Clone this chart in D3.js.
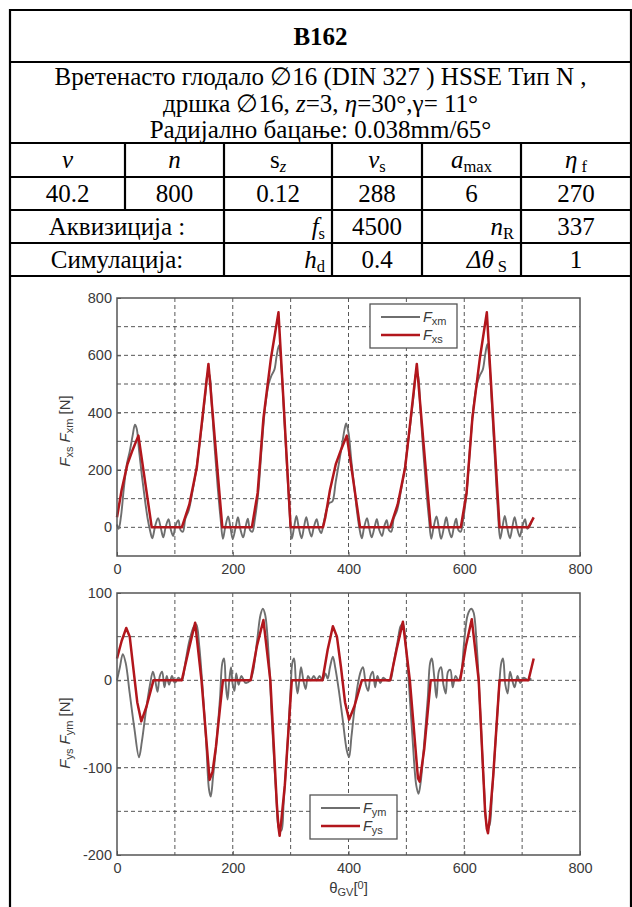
<!DOCTYPE html>
<html>
<head>
<meta charset="utf-8">
<script src="https://cdn.jsdelivr.net/npm/d3@7"></script>
<style>
body { margin: 0; background: #fff; }
</style>
</head>
<body>
<svg id="chart" width="632" height="907"></svg>
<script>
// ---------- table content ----------
var title = "B162";
var descLines = [
    [["Вретенасто глодало ∅16 (DIN 327 ) HSSE Тип N ,", ""]],
    [["дршка ∅16, ", ""], ["z", "i"], ["=3,  ", ""], ["η", "i"], ["=30°,γ= 11°", ""]],
    [["Радијално бацање: 0.038mm/65°", ""]]
];
var headCells = [
    [["v", "i"]], [["n", "i"]], [["s", ""], ["z", "sub i"]],
    [["v", "i"], ["s", "sub"]], [["a", "i"], ["max", "sub"]], [["η", "i"], [" f", "sub"]]
];
var valueCells = ["40.2", "800", "0.12", "288", "6", "270"];
var acqLabel = "Аквизиција :";
var acqCells = [[["f", "i"], ["s", "sub"]], "4500", [["n", "i"], ["R", "sub"]], "337"];
var simLabel = "Симулација:";
var simCells = [[["h", "i"], ["d", "sub"]], "0.4", [["Δθ", "i"], [" S", "sub"]], "1"];

// ---------- series: top plot (Fx) ----------
var fxmAngle = [0,3,7,12,17,22,27,31,34,38,43,48,53,57,61,66,71,76,80,84,89,93,97,101,106,110,114,
    118,124,130,136,142,148,153,157,160,164,169,174,179,183,
    187,192,196,200,205,209,213,218,222,226,230,234,
    238,244,250,256,262,267,272,276,280,284,289,294,298,
    302,306,310,314,319,323,327,331,336,340,345,349,353,
    357,362,367,372,378,384,389,393,396,400,405,410,415,419,
    423,427,432,436,440,445,449,453,458,462,466,470,474,
    478,484,490,496,502,508,513,517,520,524,529,534,539,543,
    547,552,556,560,565,569,573,578,582,586,590,594,
    598,604,610,616,622,627,632,636,640,644,649,654,658,
    662,666,670,674,679,683,687,691,696,700,705,709,713,716];
var fxmValue = [10,-5,40,140,220,265,320,358,345,270,180,100,30,-10,-38,5,32,-5,-35,0,28,-8,-30,5,25,-10,-15,
    30,60,120,190,280,380,470,540,530,420,270,140,30,-40,
    0,38,0,-40,0,35,-5,-35,0,30,-10,-15,
    25,120,280,420,500,530,550,600,635,560,380,200,60,
    -40,0,40,0,-38,0,35,0,-32,0,28,-5,-20,
    15,60,85,90,160,230,290,340,362,330,230,140,50,-5,
    -38,0,32,-5,-35,0,28,-8,-30,5,25,-10,-15,
    30,60,120,190,280,380,470,540,530,420,270,140,30,-40,
    0,38,0,-40,0,35,-5,-35,0,30,-10,-15,
    25,120,280,420,500,530,550,600,640,560,380,200,60,
    -40,0,40,0,-38,0,35,0,-32,0,28,-5,5,20];
var fxsAngle = [0,8,18,27,37,60,112,125,138,148,158,182,233,243,253,266,279,300,
    356,360,368,378,387,397,420,472,485,498,508,518,542,594,604,614,627,639,661,711,720];
var fxsValue = [35,130,220,270,320,0,0,80,210,390,570,0,0,120,380,590,750,0,
    0,35,130,220,270,320,0,0,80,210,390,570,0,0,120,380,590,750,0,0,35];

// ---------- series: bottom plot (Fy) ----------
var fymAngle = [0,5,10,15,22,30,38,43,50,57,62,66,70,74,78,82,86,90,95,100,106,112,
    118,125,133,137,142,148,154,159,162,166,172,178,182,185,188,191,194,197,200,203,206,210,215,222,230,
    235,242,248,252,256,262,268,275,280,284,288,294,300,303,306,309,312,315,318,322,326,330,335,340,345,350,
    355,360,364,368,373,377,383,390,397,401,405,410,416,421,425,430,434,438,442,446,450,455,460,466,472,
    478,485,490,494,499,505,511,517,521,525,531,537,541,544,548,552,556,560,564,568,572,576,580,585,590,
    595,600,606,612,616,622,628,634,640,644,648,654,660,664,667,671,675,679,683,687,692,697,703,710,716];
var fymValue = [0,15,30,20,-15,-55,-88,-70,-35,-5,10,0,-13,5,10,-8,5,-5,5,-3,3,0,
    20,45,62,64,40,-10,-70,-125,-133,-110,-70,-20,20,25,-5,-22,0,15,-5,-12,8,-5,5,-3,0,
    10,45,75,82,75,30,-50,-130,-170,-172,-140,-80,-10,20,25,0,-15,0,15,0,-10,5,0,5,0,5,
    0,8,2,15,27,15,-10,-45,-80,-88,-65,-35,-5,10,15,-5,-12,5,10,-8,5,-3,3,0,0,
    20,45,62,65,40,-10,-70,-120,-130,-115,-70,-20,20,25,5,-20,10,15,-5,-15,10,12,-8,5,0,
    10,45,75,82,78,35,-40,-120,-170,-165,-130,-70,-10,20,25,-5,-15,10,0,-8,5,-3,3,0,2];
var fysAngle = [0,8,16,22,28,35,42,51,63,112,124,135,146,160,165,171,183,
    231,242,253,265,276,279,281,284,290,302,
    355,364,373,380,387,394,401,410,423,472,483,494,506,520,523,531,542,
    593,603,613,625,636,639,641,644,650,661,711,720];
var fysValue = [25,45,60,50,15,-25,-47,-30,0,0,35,66,0,-114,-105,-76,0,
    0,40,69,0,-140,-168,-178,-160,-120,0,
    0,35,62,50,15,-25,-45,-30,0,0,35,67,0,-112,-116,-78,0,
    0,40,70,0,-150,-170,-175,-158,-110,0,0,25];

// ---------- axes ----------
var xTicks = [0, 200, 400, 600, 800];
var xGrid = [100, 200, 300, 400, 500, 600, 700];
var topYTicks = [0, 200, 400, 600, 800];
var topYGrid = [0, 100, 200, 300, 400, 500, 600, 700];
var botYTicks = [-200, -100, 0, 100];
var botYGrid = [-150, -100, -50, 0, 50];

var svg = d3.select("#chart");
var serif = "'Liberation Serif', 'Times New Roman', serif";
var sans = "'Liberation Sans', Arial, sans-serif";
var inkText = "#3a3a3a";
var plainInt = function (d) { return String(d); };

// ---------- table ----------
var colX = [10, 125, 224, 332, 422, 521, 631];
var rowY = [10, 62, 143, 177, 210, 243, 276];

function addRich(sel, parts, size) {
    if (typeof parts === "string") parts = [[parts, ""]];
    parts.forEach(function (p) {
        var ts = sel.append("tspan").text(p[0]);
        if (p[1].indexOf("i") >= 0) ts.attr("font-style", "italic");
        if (p[1].indexOf("sub") >= 0) {
            ts.attr("font-size", size * 0.66).attr("baseline-shift", "-22%");
            if (p[1].indexOf(" i") < 0) ts.attr("font-style", "normal");
        }
    });
    return sel;
}

var tbl = svg.append("g").attr("font-family", serif).attr("fill", "#000");
tbl.selectAll("line.h").data(rowY).enter().append("line")
    .attr("x1", colX[0]).attr("x2", colX[6])
    .attr("y1", function (d) { return d; }).attr("y2", function (d) { return d; })
    .attr("stroke", "#000").attr("stroke-width", 2.2);
[colX[0], colX[6]].forEach(function (xx) {
    tbl.append("line").attr("x1", xx).attr("x2", xx).attr("y1", rowY[0] - 1).attr("y2", 907)
        .attr("stroke", "#000").attr("stroke-width", 2.2);
});
[1, 2, 3, 4, 5].forEach(function (c) {
    tbl.append("line").attr("x1", colX[c]).attr("x2", colX[c])
        .attr("y1", rowY[2]).attr("y2", c === 1 ? rowY[4] : rowY[6])
        .attr("stroke", "#000").attr("stroke-width", 2.2);
});

var midX = (colX[0] + colX[6]) / 2;
tbl.append("text").attr("x", midX).attr("y", 45).attr("text-anchor", "middle")
    .attr("font-size", 25).attr("font-weight", "bold").text(title);
descLines.forEach(function (parts, i) {
    addRich(tbl.append("text").attr("x", midX).attr("y", 85 + i * 26.5).attr("text-anchor", "middle")
        .attr("font-size", 25), parts, 25);
});
var cellSize = 25;
function cellCenter(c) { return (colX[c] + colX[c + 1]) / 2; }
headCells.forEach(function (parts, c) {
    addRich(tbl.append("text").attr("x", cellCenter(c)).attr("y", rowY[2] + 25)
        .attr("text-anchor", "middle").attr("font-size", cellSize), parts, cellSize);
});
valueCells.forEach(function (v, c) {
    tbl.append("text").attr("x", cellCenter(c)).attr("y", rowY[3] + 25)
        .attr("text-anchor", "middle").attr("font-size", cellSize).text(v);
});
function sideRow(label, cells, y0) {
    tbl.append("text").attr("x", (colX[0] + colX[2]) / 2).attr("y", y0 + 25)
        .attr("text-anchor", "middle").attr("font-size", cellSize).text(label);
    cells.forEach(function (parts, k) {
        var c = k + 2;
        var right = (k % 2 === 0);
        addRich(tbl.append("text")
            .attr("x", right ? colX[c + 1] - (c === 4 && label === simLabel ? 14 : 7) : cellCenter(c))
            .attr("y", y0 + 25)
            .attr("text-anchor", right ? "end" : "middle").attr("font-size", cellSize), parts, cellSize);
    });
}
sideRow(acqLabel, acqCells, rowY[4]);
sideRow(simLabel, simCells, rowY[5]);

// ---------- plots ----------
var x = d3.scaleLinear().domain([0, 800]).range([117, 580]);

function drawPanel(cfg) {
    var y = cfg.y;
    var g = svg.append("g");
    var x0 = x.range()[0], x1 = x.range()[1];
    var yTop = y.range()[1], yBot = y.range()[0];
    g.append("rect").attr("x", x0).attr("y", yTop).attr("width", x1 - x0).attr("height", yBot - yTop)
        .attr("fill", "#fff");
    // grid
    g.selectAll("line.gx").data(xGrid).enter().append("line")
        .attr("x1", function (d) { return x(d); }).attr("x2", function (d) { return x(d); })
        .attr("y1", yTop).attr("y2", yBot)
        .attr("stroke", "#444").attr("stroke-width", 0.9).attr("stroke-dasharray", "4,3");
    g.selectAll("line.gy").data(cfg.grid).enter().append("line")
        .attr("y1", function (d) { return y(d); }).attr("y2", function (d) { return y(d); })
        .attr("x1", x0).attr("x2", x1)
        .attr("stroke", "#444").attr("stroke-width", 0.9).attr("stroke-dasharray", "4,3");
    // axes
    var ax = g.append("g").attr("transform", "translate(0," + yBot + ")")
        .call(d3.axisBottom(x).tickValues(xTicks).tickSize(-4).tickPadding(8).tickFormat(plainInt));
    var ay = g.append("g").attr("transform", "translate(" + x0 + ",0)")
        .call(d3.axisLeft(y).tickValues(cfg.ticks).tickSize(-4).tickPadding(5).tickFormat(plainInt));
    [ax, ay].forEach(function (a) {
        a.select(".domain").remove();
        a.selectAll("line").attr("stroke", "#555");
        a.selectAll("text").attr("font-family", sans).attr("font-size", 14.5).attr("fill", inkText);
    });
    // series
    var lineGen = function (curve) {
        return d3.line().x(function (d) { return x(d[0]); }).y(function (d) { return y(d[1]); }).curve(curve);
    };
    var meas = d3.zip(cfg.mAngle, cfg.mValue);
    var sim = d3.zip(cfg.sAngle, cfg.sValue);
    g.append("path").attr("d", lineGen(d3.curveCatmullRom.alpha(0.5))(meas))
        .attr("fill", "none").attr("stroke", "#6e6e6e").attr("stroke-width", 1.9);
    g.append("path").attr("d", lineGen(d3.curveLinear)(sim))
        .attr("fill", "none").attr("stroke", "#b2161c").attr("stroke-width", 2.5)
        .attr("stroke-linejoin", "round");
    // frame
    g.append("rect").attr("x", x0).attr("y", yTop).attr("width", x1 - x0).attr("height", yBot - yTop)
        .attr("fill", "none").attr("stroke", "#555").attr("stroke-width", 1.5);
    // y label
    var yl = g.append("text")
        .attr("transform", "translate(" + cfg.ylx + "," + ((yTop + yBot) / 2 + cfg.yShift) + ") rotate(-90)")
        .attr("text-anchor", "middle").attr("font-family", sans).attr("font-size", 15).attr("fill", inkText);
    cfg.ylabel.forEach(function (p) {
        var t = yl.append("tspan").text(p[0]);
        if (p[1] === "i") t.attr("font-style", "italic");
        if (p[1] === "sub") t.attr("font-size", 11).attr("baseline-shift", "-25%");
    });
    // legend
    var L = cfg.legend;
    var lg = g.append("g").attr("transform", "translate(" + L.x + "," + L.y + ")");
    lg.append("rect").attr("width", L.w).attr("height", 44).attr("fill", "#fff")
        .attr("stroke", "#555").attr("stroke-width", 1.3);
    L.items.forEach(function (it, i) {
        var yy = 13 + i * 18;
        lg.append("line").attr("x1", 11).attr("x2", 50).attr("y1", yy).attr("y2", yy)
            .attr("stroke", it.color).attr("stroke-width", it.w);
        var t = lg.append("text").attr("x", 53).attr("y", yy + 5).attr("font-family", sans)
            .attr("font-size", 14.5).attr("fill", inkText);
        t.append("tspan").attr("font-style", "italic").text("F");
        t.append("tspan").attr("font-size", 11).attr("baseline-shift", "-25%").text(it.sub);
    });
}

drawPanel({
    y: d3.scaleLinear().domain([-100, 800]).range([556, 298]),
    ticks: topYTicks, grid: topYGrid,
    mAngle: fxmAngle, mValue: fxmValue, sAngle: fxsAngle, sValue: fxsValue,
    ylx: 70, yShift: 4,
    ylabel: [["F", "i"], ["xs", "sub"], ["  ", ""], ["F", "i"], ["xm", "sub"], [" [N]", ""]],
    legend: {x: 370, y: 304, w: 87, items: [{sub: "xm", color: "#6e6e6e", w: 1.9}, {sub: "xs", color: "#b2161c", w: 2.5}]}
});
drawPanel({
    y: d3.scaleLinear().domain([-200, 100]).range([855, 593]),
    ticks: botYTicks, grid: botYGrid,
    mAngle: fymAngle, mValue: fymValue, sAngle: fysAngle, sValue: fysValue,
    ylx: 70, yShift: 9,
    ylabel: [["F", "i"], ["ys", "sub"], ["  ", ""], ["F", "i"], ["ym", "sub"], [" [N]", ""]],
    legend: {x: 310, y: 795, w: 87, items: [{sub: "ym", color: "#6e6e6e", w: 1.9}, {sub: "ys", color: "#b2161c", w: 2.5}]}
});

// x label of the bottom plot
var xl = svg.append("text").attr("x", x(400)).attr("y", 893).attr("text-anchor", "middle")
    .attr("font-family", sans).attr("font-size", 15).attr("fill", inkText);
xl.append("tspan").text("θ");
xl.append("tspan").attr("font-size", 11).attr("baseline-shift", "-25%").text("GV");
xl.append("tspan").text("[");
xl.append("tspan").attr("font-size", 11).attr("baseline-shift", "35%").text("0");
xl.append("tspan").text("]");
</script>
</body>
</html>
